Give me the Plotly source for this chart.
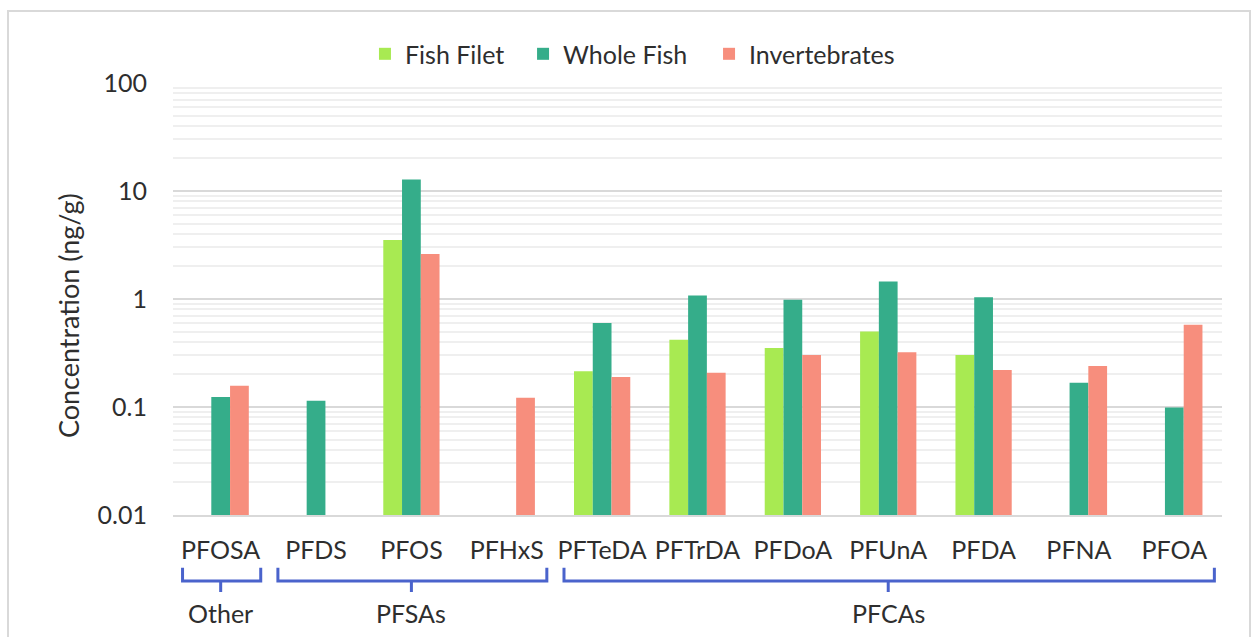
import plotly.graph_objects as go

# PFAS compounds along the x axis
compounds = ["PFOSA", "PFDS", "PFOS", "PFHxS", "PFTeDA", "PFTrDA",
             "PFDoA", "PFUnA", "PFDA", "PFNA", "PFOA"]

# Concentrations (ng/g); None = not reported
fish_filet = [None, None, 3.52, None, 0.214, 0.42, 0.352, 0.50, 0.303, None, None]
whole_fish = [0.124, 0.114, 12.8, None, 0.60, 1.08, 0.986, 1.45, 1.04, 0.168, 0.099]
invertebrates = [0.157, None, 2.61, 0.122, 0.19, 0.208, 0.303, 0.321, 0.22, 0.24, 0.578]

# Compound classes: (label, first compound, last compound)
groups = [("Other", "PFOSA", "PFOSA"),
          ("PFSAs", "PFDS", "PFHxS"),
          ("PFCAs", "PFTeDA", "PFOA")]

series = [("Fish Filet", fish_filet, "#A8EA52", "legend", 0.183),
          ("Whole Fish", whole_fish, "#35AD8A", "legend2", 0.3337),
          ("Invertebrates", invertebrates, "#F78E7D", "legend3", 0.511)]

FONT = "Lato"
TXT = "#2E2E2E"

fig = go.Figure()
legend_layout = {}
for name, vals, color, leg, lx in series:
    fig.add_trace(go.Bar(x=compounds, y=vals, name=name, legend=leg,
                         marker=dict(color=color, line=dict(width=0))))
    legend_layout[leg] = dict(orientation="h", x=lx, xanchor="left", y=1.067,
                              yanchor="middle", bgcolor="rgba(0,0,0,0)",
                              font=dict(family=FONT, size=25, color=TXT))

# Braces under the category labels, one per compound class
BLUE = "#4A63CC"
y_top, y_bar, y_notch, y_lab = -0.122, -0.153, -0.178, -0.226
pad_l, pad_r = 0.40, 0.42
for label, first, last in groups:
    i0, i1 = compounds.index(first), compounds.index(last)
    x0, x1 = i0 - pad_l, i1 + pad_r
    xm = (i0 + i1) / 2
    path = (f"M {x0},{y_top} L {x0},{y_bar} L {x1},{y_bar} L {x1},{y_top} "
            f"M {xm},{y_bar} L {xm},{y_notch}")
    fig.add_shape(type="path", path=path, xref="x", yref="paper",
                  line=dict(color=BLUE, width=3))
    fig.add_annotation(x=xm, y=y_lab, xref="x", yref="paper", text=label,
                       showarrow=False, font=dict(family=FONT, size=25, color=TXT),
                       yanchor="middle")

# Axis title placed as rotated text
fig.add_annotation(x=-0.100, y=0.4606, xref="paper", yref="paper",
                   xanchor="center", yanchor="middle",
                   text="Concentration (ng/g)", textangle=-90, showarrow=False,
                   font=dict(family=FONT, size=27, color=TXT))

# Outer chart border
fig.add_shape(type="rect", xref="paper", yref="paper",
              x0=-0.1573, x1=1.0267, y0=-0.4, y1=1.1667,
              line=dict(color="#D9D9D9", width=2), fillcolor="rgba(0,0,0,0)")

fig.update_layout(
    width=1252, height=637,
    margin=dict(l=173, r=30, t=83, b=122),
    paper_bgcolor="white", plot_bgcolor="white",
    barmode="group", bargap=0.41, bargroupgap=0,
    font=dict(family=FONT, size=25, color=TXT),
    showlegend=True,
    xaxis=dict(type="category", showgrid=False, ticks="", showline=True,
               linecolor="#D9D9D9", linewidth=2,
               tickfont=dict(family=FONT, size=25, color=TXT), ticklabelstandoff=12),
    yaxis=dict(type="log", range=[-2, 2], dtick=1,
               tickvals=[0.01, 0.1, 1, 10, 100],
               ticktext=["0.01", "0.1", "1", "10", "100"],
               showgrid=True, gridcolor="#D9D9D9", gridwidth=2,
               zeroline=False, showline=False, ticks="",
               tickfont=dict(family=FONT, size=25, color=TXT), ticklabelstandoff=25,
               minor=dict(dtick="D1", showgrid=True, gridcolor="#EFEFEF", gridwidth=2)),
    **legend_layout,
)

fig.write_html("out.html")
